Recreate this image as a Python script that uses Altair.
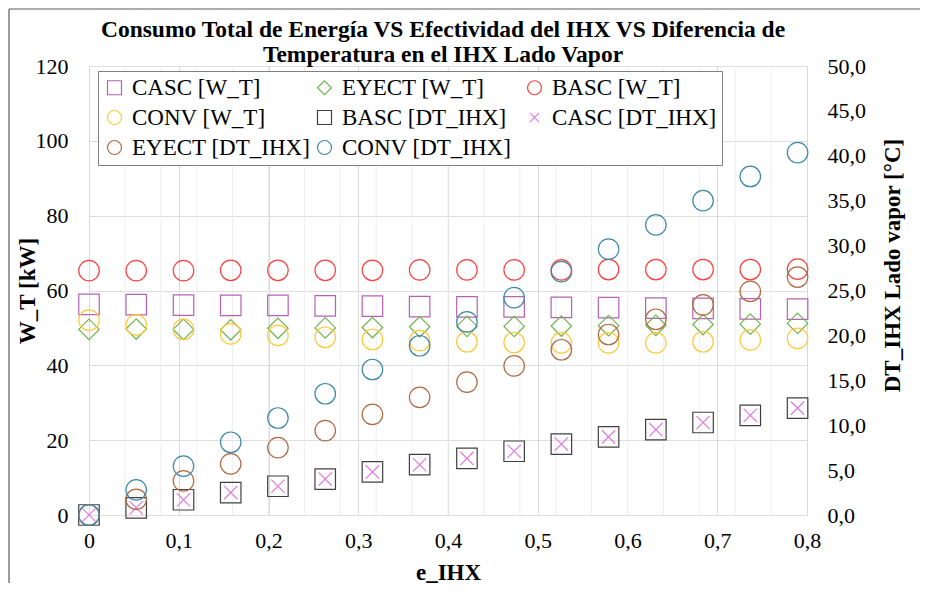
import altair as alt
import pandas as pd

# ---------------- data ----------------
e_ihx = [0.0, 0.0526, 0.1053, 0.1579, 0.2105, 0.2632, 0.3158, 0.3684,
         0.4211, 0.4737, 0.5263, 0.5789, 0.6316, 0.6842, 0.7368, 0.7895]

casc_wt = [56.3, 56.2, 56.1, 56.0, 56.0, 55.9, 55.8, 55.7,
           55.6, 55.6, 55.5, 55.4, 55.3, 55.2, 55.1, 55.0]
eyect_wt = [49.6, 49.7, 49.6, 49.5, 49.9, 50.0, 50.1, 50.3,
            50.4, 50.4, 50.5, 50.6, 50.7, 50.9, 51.0, 51.2]
basc_wt = [65.3, 65.3, 65.3, 65.4, 65.4, 65.4, 65.4, 65.5,
           65.5, 65.5, 65.5, 65.6, 65.6, 65.6, 65.6, 65.7]
conv_wt = [52.1, 50.8, 49.6, 48.4, 48.0, 47.5, 46.9, 46.6,
           46.3, 46.1, 46.0, 46.0, 46.0, 46.3, 46.8, 47.2]

basc_dt = [0.0, 0.8, 1.7, 2.5, 3.2, 4.0, 4.8, 5.6,
           6.3, 7.1, 7.9, 8.7, 9.5, 10.3, 11.1, 11.9]
casc_dt = [0.0, 0.8, 1.7, 2.5, 3.2, 4.0, 4.8, 5.6,
           6.3, 7.1, 7.9, 8.7, 9.5, 10.3, 11.1, 11.9]
eyect_dt = [0.0, 1.75, 3.8, 5.7, 7.5, 9.4, 11.2, 13.1,
            14.8, 16.6, 18.4, 20.1, 21.8, 23.4, 24.9, 26.5]
conv_dt = [0.0, 2.8, 5.45, 8.1, 10.8, 13.5, 16.2, 18.85,
           21.5, 24.2, 27.1, 29.6, 32.3, 35.0, 37.7, 40.35]

# legend is filled column by column, so this order gives the reference's rows
series_names = ["CASC [W_T]", "CONV [W_T]", "EYECT [DT_IHX]",
                "EYECT [W_T]", "BASC [DT_IHX]", "CONV [DT_IHX]",
                "BASC [W_T]", "CASC [DT_IHX]"]
series_colors = ["#b462b4", "#ffc83c", "#b06a42",
                 "#74b450", "#404040", "#3f88a8",
                 "#ff4040", "#e07ae0"]
cross = "M-0.65,-0.65L0.65,0.65M-0.65,0.65L0.65,-0.65"
series_shapes = ["square", "circle", "circle",
                 "diamond", "square", "circle",
                 "circle", cross]

x_ticks = [0.0, 0.1, 0.2, 0.3, 0.4, 0.5, 0.6, 0.7, 0.8]
y_left_ticks = [0, 20, 40, 60, 80, 100, 120]
y_right_ticks = [0, 5, 10, 15, 20, 25, 30, 35, 40, 45, 50]
minor_x_grid = [0.04, 0.08, 0.12, 0.16, 0.20, 0.24, 0.28, 0.32, 0.36, 0.40,
                0.44, 0.48, 0.52, 0.56, 0.60, 0.64, 0.68, 0.72, 0.76]

title_lines = ["Consumo Total de Energía VS Efectividad del IHX VS Diferencia de",
               "Temperatura en el IHX Lado Vapor"]

# ---------------- tables ----------------
def long_table(pairs):
    rows = []
    for name, vals in pairs:
        for x, v in zip(e_ihx, vals):
            rows.append({"e": x, "v": v, "s": name})
    return pd.DataFrame(rows)

wt_df = long_table([("CASC [W_T]", casc_wt), ("EYECT [W_T]", eyect_wt),
                    ("BASC [W_T]", basc_wt), ("CONV [W_T]", conv_wt)])
dt_df = long_table([("BASC [DT_IHX]", basc_dt), ("CASC [DT_IHX]", casc_dt),
                    ("EYECT [DT_IHX]", eyect_dt), ("CONV [DT_IHX]", conv_dt)])
grid_df = pd.DataFrame({"e": minor_x_grid})

FONT = "Liberation Serif"

x_enc = alt.X(
    "e:Q",
    scale=alt.Scale(domain=[0, 0.8], nice=False, zero=False),
    axis=alt.Axis(
        values=x_ticks,
        labelExpr="datum.value == 0 ? '0' : replace(format(datum.value, '.1f'), '.', ',')",
        title="e_IHX", titleFont=FONT, titleFontSize=23, titleFontWeight="bold",
        titleColor="black", titleY=57, titleBaseline="middle",
        labelFont=FONT, labelFontSize=22, labelColor="black", labelPadding=15,
        labelFlush=False,
        ticks=False, tickSize=0, domain=False,
        grid=True, gridColor="#d9d9d9", gridWidth=1,
    ),
)

legend = alt.Legend(
    title=None, orient="none", legendX=9, legendY=5, columns=3, gridAlign="all",
    columnPadding=2, rowPadding=6, symbolSize=196, symbolStrokeWidth=1.2,
    labelFont=FONT, labelFontSize=23, labelColor="black", labelOffset=6,
    labelLimit=400, padding=5, strokeColor="#7f7f7f", fillColor="white",
)

color_enc = alt.Color("s:N", scale=alt.Scale(domain=series_names, range=series_colors),
                      legend=legend)
shape_enc = alt.Shape("s:N", scale=alt.Scale(domain=series_names, range=series_shapes),
                      legend=legend)

minor_grid = alt.Chart(grid_df).mark_rule(color="#eeeeee", strokeWidth=1).encode(x=x_enc)

wt_layer = alt.Chart(wt_df).mark_point(filled=False, size=420, strokeWidth=1.2, opacity=1).encode(
    x=x_enc,
    y=alt.Y("v:Q", scale=alt.Scale(domain=[0, 120], nice=False),
            axis=alt.Axis(orient="left", values=y_left_ticks, format="d",
                          title="W_T [kW]", titleFont=FONT, titleFontSize=23,
                          titleFontWeight="bold", titleColor="black",
                          titleAngle=270, titleX=-62, titleY=224.5, titleBaseline="middle",
                          labelFont=FONT, labelFontSize=22, labelColor="black",
                          labelPadding=21, ticks=False, tickSize=0, domain=False,
                          grid=True, gridColor="#dedede", gridWidth=1)),
    color=color_enc,
    shape=shape_enc,
)

dt_layer = alt.Chart(dt_df).mark_point(filled=False, size=420, strokeWidth=1.2, opacity=1).encode(
    x=x_enc,
    y=alt.Y("v:Q", scale=alt.Scale(domain=[0, 50], nice=False),
            axis=alt.Axis(orient="right", values=y_right_ticks,
                          labelExpr="replace(format(datum.value, '.1f'), '.', ',')",
                          title="DT_IHX Lado vapor [°C]", titleFont=FONT, titleFontSize=23,
                          titleFontWeight="bold", titleColor="black",
                          titleAngle=270, titleX=85, titleY=199, titleBaseline="middle",
                          labelFont=FONT, labelFontSize=22, labelColor="black",
                          labelPadding=20, ticks=False, tickSize=0, domain=False,
                          grid=False)),
    color=color_enc,
    shape=shape_enc,
)

# chart-area border: only its left and top edges fall inside the picture
frame_left = alt.Chart(alt.Data(values=[{"k": 1}])).mark_rule(
    color="#595959", strokeWidth=1.2
).encode(x=alt.value(-80), y=alt.value(-57), y2=alt.value(600))
frame_top = alt.Chart(alt.Data(values=[{"k": 1}])).mark_rule(
    color="#595959", strokeWidth=1.2
).encode(x=alt.value(-80), x2=alt.value(900), y=alt.value(-57))

chart = alt.layer(minor_grid, wt_layer, dt_layer, frame_left, frame_top).resolve_scale(
    y="independent"
).properties(
    width=718, height=449,
    autosize=alt.AutoSizeParams(type="none"),
    padding={"left": 81, "top": 58, "right": 113, "bottom": 68},
    title=alt.TitleParams(text=title_lines, font=FONT, fontSize=23.5, fontWeight="bold",
                          color="black", anchor="middle", frame="group", offset=6,
                          lineHeight=25, dx=-5, dy=64),
).configure_view(stroke="#7f7f7f", strokeWidth=1).configure(background="white")

chart.save("out.html", embed_options={"renderer": "svg", "actions": False})
